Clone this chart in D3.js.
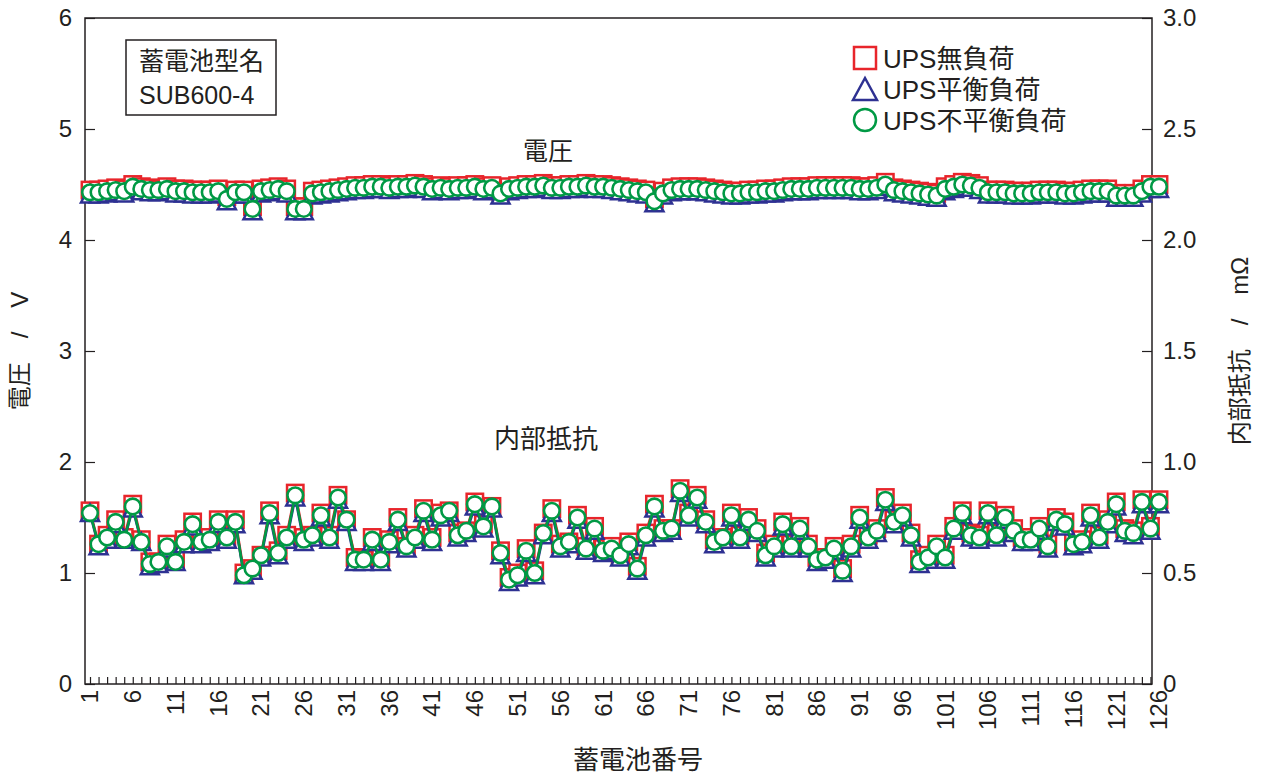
<!DOCTYPE html>
<html>
<head>
<meta charset="utf-8">
<script src="https://cdn.jsdelivr.net/npm/d3@7"></script>
<style>
  body { margin: 0; background: #fff; }
  text { font-family: "Liberation Sans", "Noto Sans CJK JP", sans-serif; fill: #231f20; }
</style>
</head>
<body>
<svg id="chart" width="1262" height="776"></svg>
<script>
// Battery numbers and axis labels
const cellNo = d3.range(1, 127);
const xTickLabels = [1, 6, 11, 16, 21, 26, 31, 36, 41, 46, 51, 56, 61, 66, 71, 76, 81, 86, 91, 96, 101, 106, 111, 116, 121, 126];
const voltTicks = [0, 1, 2, 3, 4, 5, 6];
const resTicks = [0, 0.5, 1.0, 1.5, 2.0, 2.5, 3.0];
const seriesNames = ["UPS無負荷", "UPS平衡負荷", "UPS不平衡負荷"];

// Cell voltage (V)
const voltNoLoad = [
  4.45,4.45,4.46,4.47,4.46,4.50,4.48,4.47,4.46,4.48,
  4.46,4.46,4.45,4.45,4.45,4.46,4.39,4.45,4.45,4.30,
  4.46,4.47,4.48,4.46,4.30,4.30,4.44,4.45,4.46,4.47,
  4.48,4.49,4.49,4.50,4.50,4.49,4.50,4.50,4.51,4.50,
  4.48,4.49,4.48,4.49,4.49,4.50,4.48,4.49,4.44,4.48,
  4.49,4.50,4.50,4.51,4.49,4.49,4.50,4.50,4.51,4.50,
  4.50,4.49,4.48,4.47,4.46,4.45,4.37,4.44,4.47,4.48,
  4.48,4.48,4.47,4.46,4.45,4.44,4.44,4.45,4.45,4.46,
  4.46,4.47,4.48,4.48,4.48,4.49,4.49,4.49,4.49,4.49,
  4.48,4.48,4.49,4.52,4.47,4.46,4.45,4.44,4.43,4.42,
  4.48,4.50,4.52,4.51,4.49,4.45,4.45,4.45,4.44,4.44,
  4.44,4.45,4.45,4.45,4.44,4.44,4.45,4.46,4.46,4.46,
  4.42,4.42,4.42,4.46,4.50,4.50
];
const voltBalanced = [
  4.41,4.41,4.42,4.43,4.42,4.46,4.44,4.43,4.43,4.44,
  4.42,4.42,4.41,4.41,4.41,4.42,4.35,4.41,4.41,4.26,
  4.42,4.43,4.44,4.42,4.26,4.26,4.40,4.41,4.42,4.43,
  4.44,4.45,4.45,4.46,4.46,4.45,4.46,4.46,4.47,4.46,
  4.44,4.45,4.44,4.45,4.45,4.46,4.44,4.45,4.40,4.44,
  4.45,4.46,4.46,4.47,4.45,4.45,4.46,4.46,4.47,4.46,
  4.46,4.45,4.44,4.43,4.42,4.41,4.33,4.40,4.43,4.44,
  4.44,4.44,4.43,4.42,4.41,4.40,4.40,4.41,4.41,4.42,
  4.42,4.43,4.44,4.44,4.44,4.45,4.45,4.45,4.45,4.45,
  4.44,4.44,4.45,4.48,4.43,4.42,4.41,4.40,4.39,4.38,
  4.44,4.46,4.48,4.47,4.45,4.41,4.41,4.41,4.40,4.40,
  4.40,4.41,4.41,4.41,4.40,4.40,4.41,4.42,4.42,4.42,
  4.38,4.38,4.38,4.42,4.46,4.46
];
const voltUnbalanced = [
  4.43,4.43,4.44,4.45,4.44,4.48,4.46,4.45,4.45,4.46,
  4.44,4.44,4.43,4.43,4.43,4.44,4.37,4.43,4.43,4.28,
  4.44,4.45,4.46,4.44,4.28,4.28,4.42,4.43,4.44,4.45,
  4.46,4.47,4.47,4.48,4.48,4.47,4.48,4.48,4.49,4.48,
  4.46,4.47,4.46,4.47,4.47,4.48,4.46,4.47,4.42,4.46,
  4.47,4.48,4.48,4.49,4.47,4.47,4.48,4.48,4.49,4.48,
  4.48,4.47,4.46,4.45,4.44,4.43,4.35,4.42,4.45,4.46,
  4.46,4.46,4.45,4.44,4.43,4.42,4.42,4.43,4.43,4.44,
  4.44,4.45,4.46,4.46,4.46,4.47,4.47,4.47,4.47,4.47,
  4.46,4.46,4.47,4.50,4.45,4.44,4.43,4.42,4.41,4.40,
  4.46,4.48,4.50,4.49,4.47,4.43,4.43,4.43,4.42,4.42,
  4.42,4.43,4.43,4.43,4.42,4.42,4.43,4.44,4.44,4.44,
  4.40,4.40,4.40,4.44,4.48,4.48
];

// Internal resistance (mΩ)
const resNoLoad = [
  0.78,0.63,0.67,0.74,0.66,0.81,0.65,0.55,0.55,0.63,
  0.56,0.65,0.73,0.64,0.66,0.74,0.66,0.74,0.50,0.52,
  0.58,0.78,0.60,0.67,0.86,0.66,0.67,0.77,0.67,0.85,
  0.74,0.57,0.56,0.66,0.57,0.65,0.75,0.62,0.67,0.79,
  0.66,0.77,0.78,0.68,0.69,0.82,0.72,0.80,0.60,0.48,
  0.50,0.61,0.51,0.68,0.79,0.63,0.64,0.76,0.62,0.71,
  0.61,0.62,0.58,0.64,0.53,0.68,0.81,0.70,0.70,0.88,
  0.77,0.85,0.74,0.65,0.66,0.77,0.67,0.75,0.70,0.59,
  0.63,0.73,0.63,0.71,0.63,0.57,0.57,0.62,0.52,0.63,
  0.76,0.67,0.70,0.84,0.74,0.77,0.68,0.56,0.58,0.63,
  0.58,0.71,0.78,0.68,0.67,0.78,0.68,0.76,0.70,0.66,
  0.66,0.71,0.63,0.75,0.73,0.64,0.65,0.77,0.67,0.74,
  0.82,0.70,0.69,0.83,0.71,0.83
];
const resBalanced = [
  0.77,0.62,0.65,0.72,0.65,0.79,0.64,0.53,0.54,0.61,
  0.55,0.63,0.71,0.63,0.64,0.72,0.65,0.72,0.49,0.51,
  0.57,0.76,0.58,0.65,0.84,0.64,0.66,0.75,0.65,0.83,
  0.73,0.55,0.55,0.64,0.55,0.63,0.73,0.61,0.65,0.77,
  0.64,0.75,0.77,0.66,0.68,0.80,0.70,0.79,0.58,0.46,
  0.48,0.59,0.49,0.67,0.77,0.61,0.63,0.74,0.60,0.69,
  0.59,0.60,0.57,0.62,0.51,0.66,0.79,0.68,0.69,0.86,
  0.75,0.83,0.72,0.63,0.65,0.75,0.65,0.73,0.68,0.57,
  0.61,0.71,0.61,0.69,0.61,0.55,0.56,0.60,0.50,0.61,
  0.74,0.65,0.68,0.82,0.72,0.75,0.66,0.54,0.56,0.61,
  0.56,0.69,0.76,0.66,0.65,0.76,0.66,0.74,0.68,0.64,
  0.64,0.69,0.61,0.73,0.71,0.62,0.63,0.75,0.65,0.72,
  0.80,0.68,0.67,0.81,0.69,0.81
];
const resUnbalanced = [
  0.77,0.63,0.66,0.73,0.65,0.80,0.64,0.54,0.55,0.62,
  0.55,0.64,0.72,0.64,0.65,0.73,0.66,0.73,0.49,0.52,
  0.58,0.77,0.59,0.66,0.85,0.65,0.67,0.76,0.66,0.84,
  0.74,0.56,0.56,0.65,0.56,0.64,0.74,0.62,0.66,0.78,
  0.65,0.76,0.78,0.67,0.69,0.81,0.71,0.80,0.59,0.47,
  0.49,0.60,0.50,0.68,0.78,0.62,0.64,0.75,0.61,0.70,
  0.60,0.61,0.58,0.63,0.52,0.67,0.80,0.69,0.70,0.87,
  0.76,0.84,0.73,0.64,0.66,0.76,0.66,0.74,0.69,0.58,
  0.62,0.72,0.62,0.70,0.62,0.56,0.57,0.61,0.51,0.62,
  0.75,0.66,0.69,0.83,0.73,0.76,0.67,0.55,0.57,0.62,
  0.57,0.70,0.77,0.67,0.66,0.77,0.67,0.75,0.69,0.65,
  0.65,0.70,0.62,0.74,0.72,0.63,0.64,0.76,0.66,0.73,
  0.81,0.69,0.68,0.82,0.70,0.82
];

const colors = ["#e8252b", "#2e3192", "#009944"];
const ink = "#231f20";

const svg = d3.select("#chart");
const plot = { left: 85, right: 1152, top: 18, bottom: 684 };

const x = d3.scaleLinear().domain([1, 126]).range([90, 1159]);
const yV = d3.scaleLinear().domain([0, 6]).range([plot.bottom, plot.top]);
const yR = d3.scaleLinear().domain([0, 3]).range([plot.bottom, plot.top]);

// Axes
const leftAxis = d3.axisLeft(yV).tickValues(voltTicks).tickSizeInner(-10).tickSizeOuter(0).tickPadding(13)
  .tickFormat(d3.format("d"));
const rightAxis = d3.axisRight(yR).tickValues(resTicks).tickSizeInner(-10).tickSizeOuter(0).tickPadding(11)
  .tickFormat(d => d === 0 ? "0" : d.toFixed(1));
const bottomAxis = d3.axisBottom(x).tickValues(cellNo.filter(d => x(d) <= plot.right)).tickSizeInner(-7).tickSizeOuter(0)
  .tickFormat(() => "");

function styleAxis(g) {
  g.select(".domain").remove();
  g.selectAll(".tick line").attr("stroke", ink).attr("stroke-width", 1.2);
  g.selectAll(".tick text").style("font-size", "24px").attr("fill", ink);
}

svg.append("g").attr("transform", `translate(${plot.left},0)`).call(leftAxis).call(styleAxis);
svg.append("g").attr("transform", `translate(${plot.right},0)`).call(rightAxis).call(styleAxis);
svg.append("g").attr("transform", `translate(0,${plot.bottom})`).call(bottomAxis).call(styleAxis);

// Rotated battery-number labels
svg.append("g").selectAll("text").data(xTickLabels).join("text")
  .attr("transform", d => `translate(${x(d)},${plot.bottom + 6}) rotate(-90)`)
  .attr("text-anchor", "end")
  .attr("dy", "0.35em")
  .style("font-size", "24px")
  .text(d => d);

// Plot frame
svg.append("rect")
  .attr("x", plot.left).attr("y", plot.top)
  .attr("width", plot.right - plot.left).attr("height", plot.bottom - plot.top)
  .attr("fill", "none").attr("stroke", ink).attr("stroke-width", 1.5);

// Axis titles
svg.append("text").attr("transform", "translate(28,351) rotate(-90)")
  .attr("text-anchor", "middle").style("font-size", "24px").text("電圧　/　V");
svg.append("text").attr("transform", "translate(1248,351) rotate(-90)")
  .attr("text-anchor", "middle").style("font-size", "24px").text("内部抵抗　/　mΩ");
svg.append("text").attr("x", 638).attr("y", 769)
  .attr("text-anchor", "middle").style("font-size", "26px").text("蓄電池番号");

// In-plot annotations
svg.append("text").attr("x", 548).attr("y", 160).attr("text-anchor", "middle")
  .style("font-size", "25px").text("電圧");
svg.append("text").attr("x", 546).attr("y", 448).attr("text-anchor", "middle")
  .style("font-size", "26px").text("内部抵抗");

// Battery type box
svg.append("rect").attr("x", 126).attr("y", 40).attr("width", 150).attr("height", 75)
  .attr("fill", "#fff").attr("stroke", ink).attr("stroke-width", 1.5);
svg.append("text").attr("x", 139).attr("y", 70).style("font-size", "25px").text("蓄電池型名");
svg.append("text").attr("x", 139).attr("y", 104).style("font-size", "25px").text("SUB600-4");

// Marker shapes
const half = 8.2;
function drawSquare(g, data, yScale, color) {
  g.selectAll(null).data(data).join("rect")
    .attr("x", d => x(d.n) - half).attr("y", d => yScale(d.v) - half)
    .attr("width", half * 2).attr("height", half * 2)
    .attr("fill", "#fff").attr("stroke", color).attr("stroke-width", 2.5);
}
function drawTriangle(g, data, yScale, color) {
  g.selectAll(null).data(data).join("path")
    .attr("d", d => {
      const cx = x(d.n), cy = yScale(d.v);
      return `M${cx},${cy - 8.5}L${cx + 9},${cy + 8}L${cx - 9},${cy + 8}Z`;
    })
    .attr("fill", "#fff").attr("stroke", color).attr("stroke-width", 2.5).attr("stroke-linejoin", "miter");
}
function drawCircle(g, data, yScale, color) {
  g.selectAll(null).data(data).join("circle")
    .attr("cx", d => x(d.n)).attr("cy", d => yScale(d.v)).attr("r", 7.8)
    .attr("fill", "#fff").attr("stroke", color).attr("stroke-width", 2.6);
}

const series = [
  { volt: voltNoLoad, res: resNoLoad, color: colors[0], draw: drawSquare },
  { volt: voltBalanced, res: resBalanced, color: colors[1], draw: drawTriangle },
  { volt: voltUnbalanced, res: resUnbalanced, color: colors[2], draw: drawCircle }
];

const marks = svg.append("g");
series.forEach(s => {
  [[s.volt, yV], [s.res, yR]].forEach(([vals, yScale]) => {
    const data = cellNo.map((n, i) => ({ n, v: vals[i] }));
    const g = marks.append("g");
    g.append("path").datum(data)
      .attr("fill", "none").attr("stroke", s.color).attr("stroke-width", 2.6)
      .attr("d", d3.line().x(d => x(d.n)).y(d => yScale(d.v)));
    s.draw(g, data, yScale, s.color);
  });
});

// Legend
const legend = svg.append("g");
const legRows = [58, 89, 120];
legend.append("rect").attr("x", 854).attr("y", legRows[0] - 11).attr("width", 22).attr("height", 22)
  .attr("fill", "#fff").attr("stroke", colors[0]).attr("stroke-width", 2.5);
legend.append("path")
  .attr("d", `M865,${legRows[1] - 11}L877,${legRows[1] + 11}L853,${legRows[1] + 11}Z`)
  .attr("fill", "#fff").attr("stroke", colors[1]).attr("stroke-width", 2.5);
legend.append("circle").attr("cx", 865).attr("cy", legRows[2]).attr("r", 11)
  .attr("fill", "#fff").attr("stroke", colors[2]).attr("stroke-width", 2.5);
legend.selectAll("text").data(seriesNames).join("text")
  .attr("x", 883).attr("y", (d, i) => legRows[i] + 10)
  .style("font-size", "26px").text(d => d);
</script>
</body>
</html>
